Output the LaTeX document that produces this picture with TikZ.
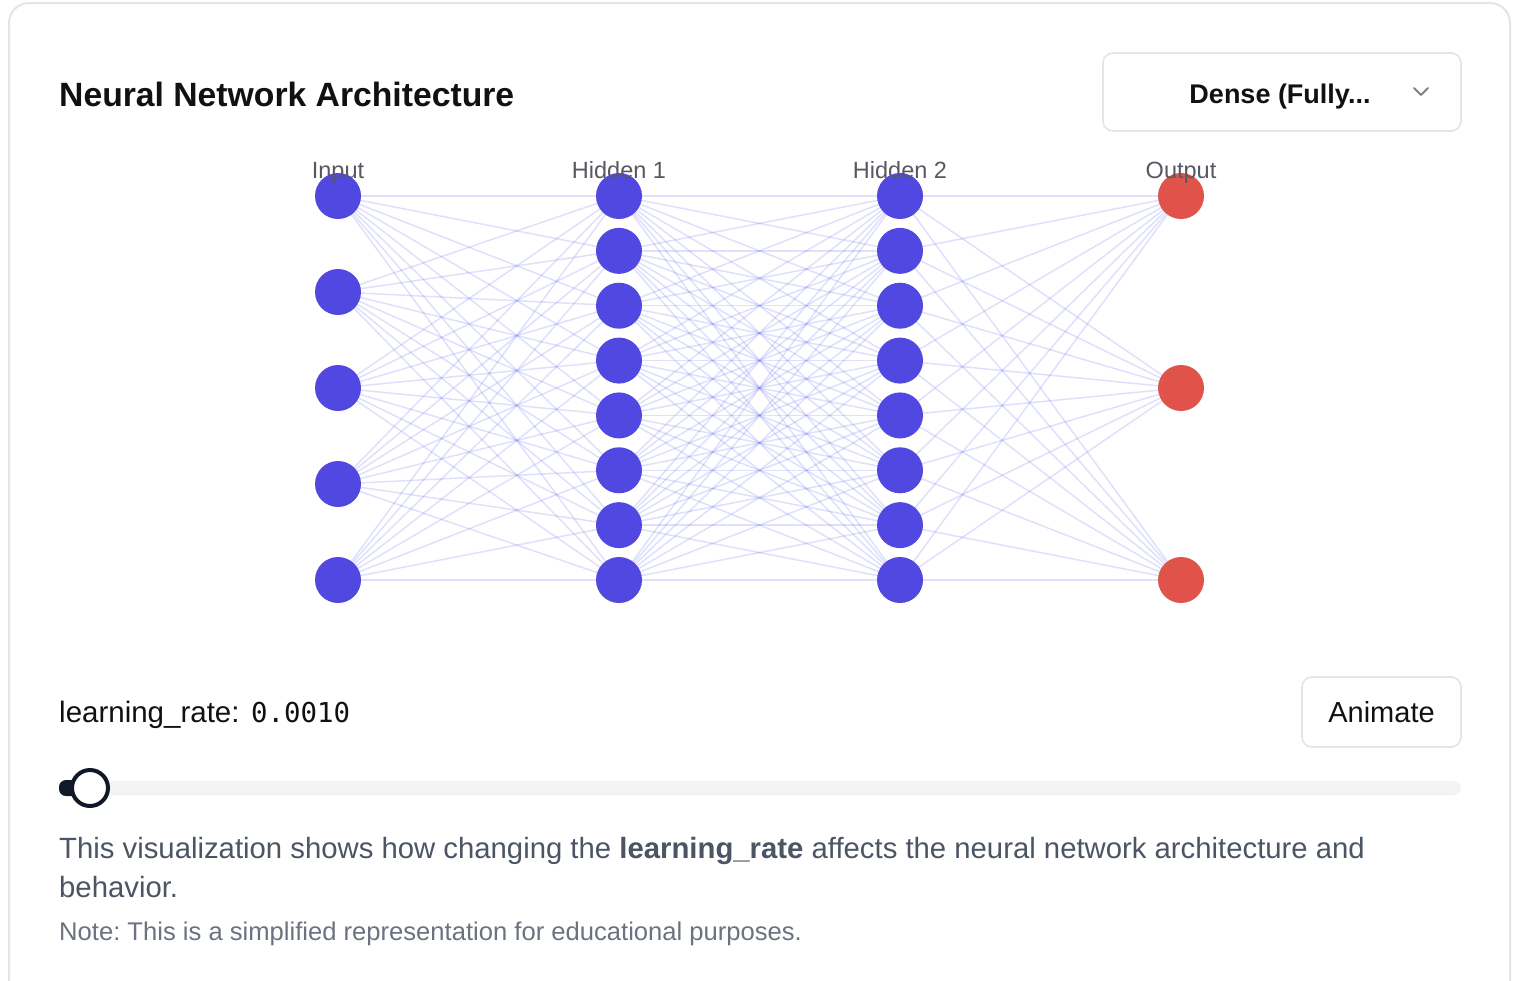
\documentclass[tikz,border=0pt]{standalone}
\usepackage{fontspec}
\setmainfont{Liberation Sans}
\setmonofont{DejaVu Sans Mono}
\definecolor{cardline}{RGB}{229,229,229}
\definecolor{nodeblue}{RGB}{80,72,224}
\definecolor{nodered}{RGB}{224,83,75}
\definecolor{edgecol}{RGB}{99,102,241}
\definecolor{lblgray}{RGB}{88,88,96}
\definecolor{titlecol}{RGB}{17,17,17}
\definecolor{desccol}{RGB}{75,85,99}
\definecolor{notecol}{RGB}{107,114,128}
\definecolor{trackcol}{RGB}{243,243,241}
\definecolor{thumbcol}{RGB}{17,24,39}
\pgfdeclarelayer{bg}
\pgfsetlayers{bg,main}
\frenchspacing
\begin{document}
\begin{tikzpicture}[x=1pt,y=-1pt,
  neuron/.style={circle,fill=nodeblue,minimum size=46pt,inner sep=0pt},
  outneuron/.style={circle,fill=nodered,minimum size=46pt,inner sep=0pt},
  edge/.style={draw=edgecol,draw opacity=0.2,line width=1.5pt},
  layerlbl/.style={anchor=base,text=lblgray,font=\fontsize{23.5}{26}\selectfont,inner sep=0pt},
  btnbox/.style={draw=cardline,line width=1.6pt,rounded corners=10pt,fill=white},
  btntext/.style={anchor=base,text=titlecol,inner sep=0pt}
]
\useasboundingbox (0,0) rectangle (1526,980);
\begin{pgfonlayer}{bg}
\fill[white] (0,0) rectangle (1526,980);
\end{pgfonlayer}
% card
\draw[cardline,line width=2pt,rounded corners=20pt] (9,990) -- (9,3) -- (1510,3) -- (1510,990);
% title
\node[anchor=base west,inner sep=0pt,text=titlecol,font=\fontsize{33.7}{38}\selectfont\bfseries] (title) at (59,106) {Neural Network Architecture};
% dropdown
\node[btnbox,minimum width=358pt,minimum height=78pt] (dd) at (1282,92) {};
\node[btntext,font=\fontsize{27}{30}\selectfont\bfseries] (ddtext) at (1280,103) {Dense (Fully...};
\draw[gray,line width=1.8pt,line cap=round,line join=round] (1414,88) -- (1421,95) -- (1428,88);
% neurons
\foreach \k/\y in {1/196,2/292,3/388,4/484,5/580}{\node[neuron] (i\k) at (338,\y) {};}
\foreach \k in {1,...,8}{
  \pgfmathsetmacro{\yy}{196+(\k-1)*384/7}
  \node[neuron] (a\k) at (619,\yy) {};
  \node[neuron] (b\k) at (900,\yy) {};
}
\foreach \k/\y in {1/196,2/388,3/580}{\node[outneuron] (o\k) at (1181,\y) {};}
% connections
\begin{pgfonlayer}{bg}
\foreach \i in {1,...,5}{\foreach \j in {1,...,8}{\draw[edge] (i\i.center) -- (a\j.center);}}
\foreach \i in {1,...,8}{\foreach \j in {1,...,8}{\draw[edge] (a\i.center) -- (b\j.center);}}
\foreach \i in {1,...,8}{\foreach \j in {1,...,3}{\draw[edge] (b\i.center) -- (o\j.center);}}
\end{pgfonlayer}
% layer labels
\node[layerlbl] (lin) at (338,178) {Input};
\node[layerlbl] (lh1) at (619,178) {Hidden 1};
\node[layerlbl] (lh2) at (900,178) {Hidden 2};
\node[layerlbl] (lout) at (1181,178) {Output};
% learning rate
\node[anchor=base west,inner sep=0pt,text=titlecol,font=\fontsize{29.5}{33}\selectfont] (lr) at (59,722) {learning\_rate:};
\node[anchor=base west,inner sep=0pt,text=titlecol,font=\fontsize{27.4}{30}\selectfont\ttfamily] (lrv) at (251,722) {0.0010};
% animate button
\node[btnbox,minimum width=159pt,minimum height=70pt] (anim) at (1381.5,712) {};
\node[btntext,font=\fontsize{29}{32}\selectfont] (animtext) at (1381.5,722) {Animate};
% slider
\fill[trackcol,rounded corners=7pt] (59,781) rectangle (1461,795);
\fill[thumbcol,rounded corners=7pt] (59,780) rectangle (92,796);
\node[circle,draw=thumbcol,line width=4pt,fill=white,minimum size=36pt,inner sep=0pt] (thumb) at (90,788) {};
% description
\node[anchor=base west,inner sep=0pt,text=desccol,font=\fontsize{29.3}{32}\selectfont] (desc1) at (59,858) {This visualization shows how changing the \textbf{learning\_rate} affects the neural network architecture and};
\node[anchor=base west,inner sep=0pt,text=desccol,font=\fontsize{29.3}{32}\selectfont] (desc2) at (59,897) {behavior.};
\node[anchor=base west,inner sep=0pt,text=notecol,font=\fontsize{25.6}{28}\selectfont] (note) at (59,940) {Note: This is a simplified representation for educational purposes.};
\end{tikzpicture}
\end{document}
